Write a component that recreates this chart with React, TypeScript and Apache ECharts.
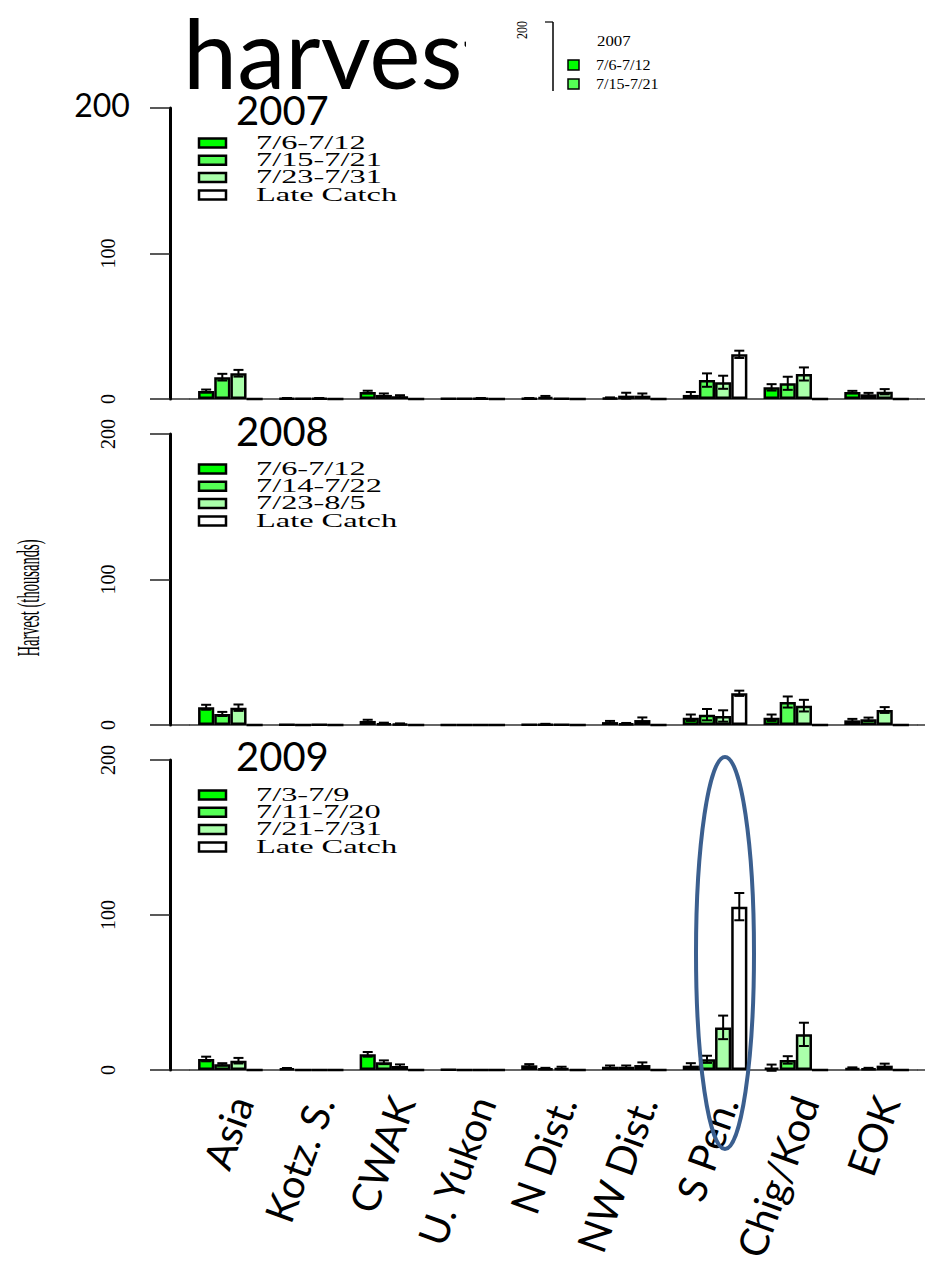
import React, { useEffect, useRef } from "react";
import * as echarts from "echarts";

// ---------- data ----------
const categories = ["Asia", "Kotz. S.", "CWAK", "U. Yukon", "N Dist.", "NW Dist.", "S Pen.", "Chig/Kod", "EOK"];
const years = ["2007", "2008", "2009"];
const yTicks = [0, 100, 200];

const legend2007 = ["7/6-7/12", "7/15-7/21", "7/23-7/31", "Late Catch"];
const legend2008 = ["7/6-7/12", "7/14-7/22", "7/23-8/5", "Late Catch"];
const legend2009 = ["7/3-7/9", "7/11-7/20", "7/21-7/31", "Late Catch"];

// harvest (thousands) by period, 2007
const h2007p1 = [5.5, 0.5, 4.8, 0.3, 0.5, 0.8, 2.8, 8.0, 4.8];
const h2007p2 = [15.0, 0.2, 2.8, 0.2, 1.3, 2.3, 13.0, 10.8, 3.2];
const h2007p3 = [17.7, 0.5, 1.9, 0.5, 0.3, 2.3, 11.5, 17.2, 5.0];
const h2007late = [0, 0, 0, 0, 0, 0, 30.7, 0, 0];
const e2007p1 = [1.0, 0.2, 0.9, 0, 0.2, 0.3, 2.0, 2.2, 0.8];
const e2007p2 = [2.3, 0, 1.0, 0, 0.8, 2.0, 4.6, 4.5, 1.0];
const e2007p3 = [2.3, 0.2, 0.7, 0.2, 0, 1.5, 4.5, 4.5, 1.8];
const e2007late = [0, 0, 0, 0, 0, 0, 2.5, 0, 0];

// 2008
const h2008p1 = [12.2, 0.2, 2.8, 0.1, 0.3, 2.0, 5.0, 5.0, 3.2];
const h2008p2 = [7.6, 0.1, 1.2, 0.1, 0.5, 1.0, 7.1, 15.8, 3.9];
const h2008p3 = [11.9, 0.3, 0.8, 0.1, 0.2, 3.4, 6.2, 13.3, 10.3];
const h2008late = [0, 0, 0, 0, 0, 0, 21.8, 0, 0];
const e2008p1 = [1.7, 0, 0.8, 0, 0, 0.8, 2.2, 2.2, 1.0];
const e2008p2 = [1.4, 0, 0.4, 0, 0.3, 0.4, 3.9, 3.8, 1.2];
const e2008p3 = [2.2, 0, 0.3, 0, 0, 1.8, 3.9, 4.0, 2.0];
const e2008late = [0, 0, 0, 0, 0, 0, 1.8, 0, 0];

// 2009
const h2009p1 = [7.1, 1.0, 10.1, 0.3, 3.0, 2.1, 2.8, 1.5, 1.2];
const h2009p2 = [3.7, 0.1, 5.0, 0.1, 1.0, 2.1, 6.9, 6.5, 1.0];
const h2009p3 = [6.0, 0.1, 2.6, 0.1, 1.3, 3.2, 27.5, 23.0, 2.8];
const h2009late = [0, 0, 0, 0, 0, 0, 105.4, 0, 0];
const e2009p1 = [1.5, 0.3, 1.5, 0, 0.8, 0.8, 1.6, 2.0, 0.5];
const e2009p2 = [0.7, 0, 1.2, 0, 0.4, 0.8, 2.3, 2.4, 0.4];
const e2009p3 = [1.8, 0, 1.0, 0, 0.8, 1.7, 7.6, 7.5, 1.3];
const e2009late = [0, 0, 0, 0, 0, 0, 8.8, 0, 0];

const insetLabels = ["7/6-7/12", "7/15-7/21"];

// ---------- styling / layout ----------
const barColors = ["#00ff00", "#55ff55", "#aaffaa", "#ffffff"];
const panelTops = [108, 434, 760];
const panelHeights = [291, 291, 310];
const yearTitleY = [110, 431, 756];
const GRID_LEFT = 190;
const GRID_WIDTH = 727;
const SERIF = "'Liberation Serif', 'Times New Roman', serif";
const SANS = "Lato, 'Open Sans', sans-serif";

function buildOption() {
  const values = [
    [h2007p1, h2007p2, h2007p3, h2007late],
    [h2008p1, h2008p2, h2008p3, h2008late],
    [h2009p1, h2009p2, h2009p3, h2009late],
  ];
  const errors = [
    [e2007p1, e2007p2, e2007p3, e2007late],
    [e2008p1, e2008p2, e2008p3, e2008late],
    [e2009p1, e2009p2, e2009p3, e2009late],
  ];
  const legends = [legend2007, legend2008, legend2009];

  const grid: any[] = [];
  const xAxis: any[] = [];
  const yAxis: any[] = [];
  const series: any[] = [];
  const graphic: any[] = [];

  for (let p = 0; p < 3; p++) {
    grid.push({
      left: GRID_LEFT,
      width: GRID_WIDTH,
      top: panelTops[p],
      height: panelHeights[p],
      containLabel: false,
      outerBoundsMode: "none",
    });
    xAxis.push({
      type: "category",
      gridIndex: p,
      data: categories,
      axisLine: { show: true, lineStyle: { color: "#333", width: 1.5 } },
      axisTick: { show: false },
      axisLabel:
        p === 2
          ? {
              show: true,
              interval: 0,
              rotate: 70,
              margin: 24,
              verticalAlign: "top",
              lineHeight: 22,
              fontFamily: SANS,
              fontSize: 40,
              color: "#000",
            }
          : { show: false },
    });
    yAxis.push({
      type: "value",
      gridIndex: p,
      min: yTicks[0],
      max: yTicks[yTicks.length - 1],
      interval: 100,
      offset: 20,
      axisLine: { show: true, lineStyle: { color: "#000", width: 3 } },
      axisTick: { show: true, length: 20, lineStyle: { color: "#222", width: 1.5 } },
      splitLine: { show: false },
      axisLabel: {
        rotate: 90,
        margin: 52,
        fontFamily: SERIF,
        fontSize: 20,
        color: "#000",
        formatter: (v: number) => (p === 0 && v === 200 ? "" : String(v)),
      },
    });

    for (let k = 0; k < 4; k++) {
      series.push({
        name: years[p] + " " + legends[p][k],
        type: "bar",
        xAxisIndex: p,
        yAxisIndex: p,
        data: values[p][k],
        barGap: "0%",
        barCategoryGap: "20%",
        itemStyle: { color: barColors[k], borderColor: "#000", borderWidth: 2.5 },
        silent: true,
      });
    }

    const errData: number[][] = [];
    for (let k = 0; k < 4; k++) {
      for (let i = 0; i < categories.length; i++) {
        const e = errors[p][k][i];
        const v = values[p][k][i];
        if (e > 0) errData.push([i, k, v - e, v + e]);
      }
    }
    series.push({
      type: "custom",
      name: years[p] + " error",
      coordinateSystem: "cartesian2d",
      xAxisIndex: p,
      yAxisIndex: p,
      z: 5,
      silent: true,
      encode: { x: 0, y: [2, 3] },
      data: errData,
      renderItem: (params: any, api: any) => {
        const i = api.value(0);
        const k = api.value(1);
        const lo = api.value(2);
        const hi = api.value(3);
        const band = api.size([1, 0])[0];
        const bw = (band * 0.8) / 4;
        const cx = api.coord([i, 0])[0] + (k - 1.5) * bw;
        const yLo = api.coord([i, lo])[1];
        const yHi = api.coord([i, hi])[1];
        const cap = 5;
        const st = { stroke: "#000", lineWidth: 2 };
        return {
          type: "group",
          children: [
            { type: "line", shape: { x1: cx, y1: yLo, x2: cx, y2: yHi }, style: st },
            { type: "line", shape: { x1: cx - cap, y1: yHi, x2: cx + cap, y2: yHi }, style: st },
            { type: "line", shape: { x1: cx - cap, y1: yLo, x2: cx + cap, y2: yLo }, style: st },
          ],
        };
      },
    });

    // baseline stretch between y axis and grid, and past the grid's right edge
    const base = panelTops[p] + panelHeights[p];
    graphic.push({
      type: "line",
      shape: { x1: 170, y1: base, x2: GRID_LEFT, y2: base },
      style: { stroke: "#333", lineWidth: 1.5 },
    });
    graphic.push({
      type: "line",
      shape: { x1: GRID_LEFT + GRID_WIDTH, y1: base, x2: 925, y2: base },
      style: { stroke: "#333", lineWidth: 1.5 },
    });

    // year title
    graphic.push({
      type: "text",
      x: 236,
      y: yearTitleY[p],
      style: {
        text: years[p],
        fontFamily: SANS,
        fontSize: 40,
        lineHeight: 34,
        fill: "#000",
        align: "left",
        verticalAlign: "middle",
      },
    });

    // legend
    const legChildren: any[] = [];
    for (let k = 0; k < 4; k++) {
      legChildren.push({
        type: "rect",
        shape: { x: 0, y: k * 17.3 - 4.5, width: 27, height: 9 },
        style: { fill: barColors[k], stroke: "#000", lineWidth: 2.5 },
      });
      legChildren.push({
        type: "text",
        x: 57,
        y: k * 17.3,
        scaleX: 1.8,
        style: {
          text: legends[p][k],
          fontFamily: SERIF,
          fontSize: 18,
          lineHeight: 16,
          fill: "#000",
          align: "left",
          verticalAlign: "middle",
        },
      });
    }
    graphic.push({ type: "group", x: 199, y: panelTops[p] + 35, children: legChildren });
  }

  // y axis title
  graphic.push({
    type: "text",
    x: 28,
    y: 598,
    rotation: Math.PI / 2,
    scaleY: 2.2,
    style: { text: "Harvest (thousands)", fontFamily: SERIF, fontSize: 14.6, fill: "#000", align: "center", verticalAlign: "middle" },
  });

  // big "200" overlay at top
  graphic.push({
    type: "text",
    x: 102,
    y: 104,
    style: { text: "200", fontFamily: SANS, fontSize: 32, lineHeight: 26, fill: "#000", align: "center", verticalAlign: "middle" },
  });

  // slide title (partly covered by pasted inset)
  graphic.push({
    type: "text",
    x: 183,
    y: 51,
    z: 1,
    style: {
      text: "harvest",
      fontFamily: SANS,
      fontSize: 97,
      lineHeight: 72,
      fill: "#000",
      align: "left",
      verticalAlign: "middle",
    },
  });
  graphic.push({ type: "rect", z: 2, shape: { x: 466, y: 0, width: 240, height: 100 }, style: { fill: "#fff" } });

  // inset legend snippet (drawn above the white cover)
  graphic.push({
    type: "text",
    z: 3,
    x: 522,
    y: 30,
    rotation: Math.PI / 2,
    scaleY: 1.3,
    style: { text: "200", fontFamily: SERIF, fontSize: 12, fill: "#000", align: "center", verticalAlign: "middle" },
  });
  graphic.push({ type: "line", z: 3, shape: { x1: 553, y1: 22, x2: 553, y2: 91 }, style: { stroke: "#000", lineWidth: 1.5 } });
  graphic.push({ type: "line", z: 3, shape: { x1: 545, y1: 22, x2: 553, y2: 22 }, style: { stroke: "#000", lineWidth: 1.2 } });
  graphic.push({
    type: "text",
    z: 3,
    x: 597,
    y: 41,
    scaleX: 1.2,
    style: { text: "2007", fontFamily: SERIF, fontSize: 14, fill: "#000", align: "left", verticalAlign: "middle" },
  });
  for (let k = 0; k < insetLabels.length; k++) {
    const cy = 65 + k * 19;
    graphic.push({
      type: "rect",
      z: 3,
      shape: { x: 568, y: cy - 5, width: 11, height: 10 },
      style: { fill: barColors[k], stroke: "#000", lineWidth: 1.5 },
    });
    graphic.push({
      type: "text",
      z: 3,
      x: 596,
      y: cy,
      scaleX: 1.15,
      style: { text: insetLabels[k], fontFamily: SERIF, fontSize: 14, lineHeight: 14, fill: "#000", align: "left", verticalAlign: "middle" },
    });
  }

  // annotation ellipse
  graphic.push({
    type: "ellipse",
    z: 20,
    shape: { cx: 725, cy: 953, rx: 29, ry: 196 },
    style: { fill: "none", stroke: "#3b5f8f", lineWidth: 4 },
  });

  return {
    animation: false,
    backgroundColor: "#fff",
    textStyle: { fontFamily: SERIF },
    grid,
    xAxis,
    yAxis,
    series,
    graphic,
  };
}

export default function App() {
  const ref = useRef<HTMLDivElement>(null);
  useEffect(() => {
    if (!ref.current) return;
    const chart = echarts.init(ref.current, null, { renderer: "svg" });
    chart.setOption(buildOption() as any);
    return () => chart.dispose();
  }, []);
  return (
    <div
      ref={ref}
      style={{ position: "fixed", left: 0, top: 0, width: 925, height: 1263, background: "#fff" }}
    />
  );
}
